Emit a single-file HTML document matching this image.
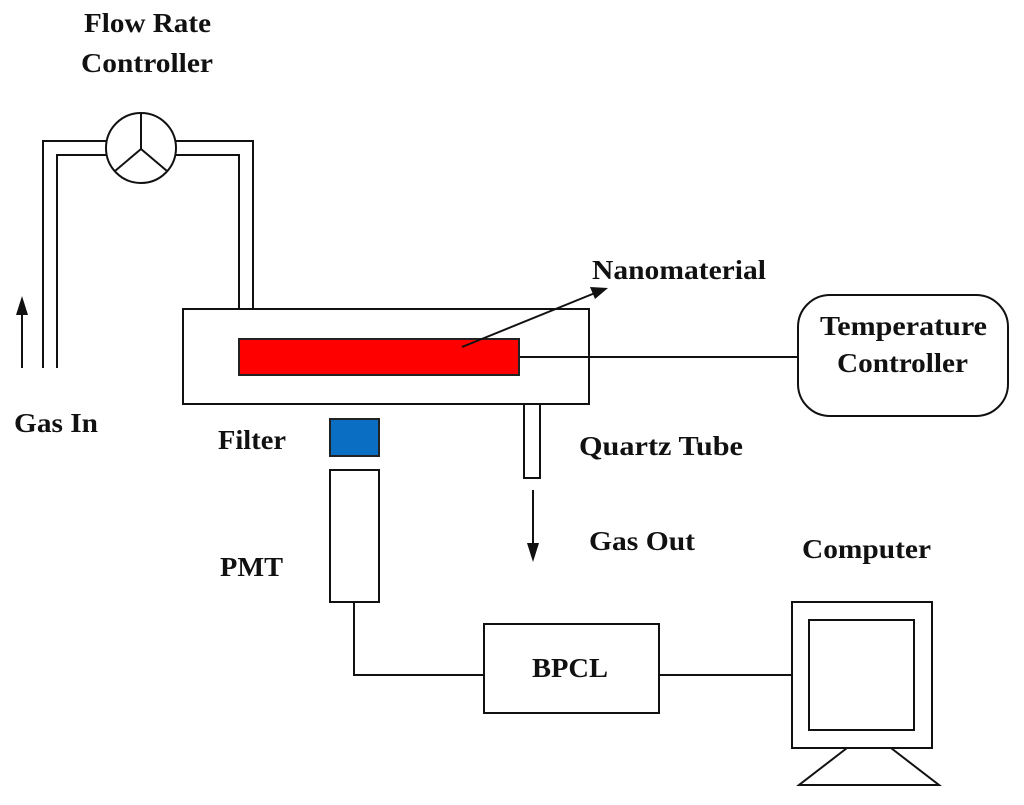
<!DOCTYPE html>
<html><head><meta charset="utf-8"><style>
html,body{margin:0;padding:0;background:#fff;}
svg text{font-family:"Liberation Serif",serif;font-weight:bold;font-size:27px;fill:#111;}
</style></head><body>
<svg width="1024" height="800" viewBox="0 0 1024 800" xmlns="http://www.w3.org/2000/svg">
<g fill="none" stroke="#111" stroke-width="2">
<polyline points="43,368 43,141 107,141"/>
<polyline points="57,368 57,155 107,155"/>
<polyline points="176,141 253,141 253,309"/>
<polyline points="176,155 239,155 239,309"/>
<circle cx="141" cy="148" r="35"/>
<line x1="141" y1="113" x2="141" y2="149"/>
<line x1="141" y1="149" x2="115" y2="171"/>
<line x1="141" y1="149" x2="167" y2="171"/>
<line x1="22" y1="368" x2="22" y2="312"/>
<rect x="183" y="309" width="406" height="95"/>
<line x1="519" y1="357" x2="798" y2="357"/>
<rect x="798" y="295" width="210" height="121" rx="32"/>
<rect x="524" y="404" width="16" height="74"/>
<line x1="533" y1="490" x2="533" y2="545"/>
<rect x="330" y="470" width="49" height="132"/>
<polyline points="354,602 354,675 484,675"/>
<rect x="484" y="624" width="175" height="89"/>
<line x1="659" y1="675" x2="792" y2="675"/>
<rect x="792" y="602" width="140" height="146"/>
<rect x="809" y="620" width="105" height="110"/>
<polyline points="847,748 799,785 939,785 891,748"/>
</g>
<polygon points="22,296 16,315 28,315" fill="#111"/>
<polygon points="533,562 527,543 539,543" fill="#111"/>
<rect x="239" y="339" width="280" height="36" fill="#ff0000" stroke="#222" stroke-width="2"/>
<line x1="462" y1="347" x2="595" y2="293" stroke="#111" stroke-width="2"/>
<polygon points="608,288 590,287 595,299" fill="#111"/>
<rect x="330" y="419" width="49" height="37" fill="#0a6fc2" stroke="#222" stroke-width="2"/>
<text x="84" y="32" textLength="127" lengthAdjust="spacingAndGlyphs">Flow Rate</text>
<text x="81" y="72" textLength="132" lengthAdjust="spacingAndGlyphs">Controller</text>
<text x="14" y="432" textLength="84" lengthAdjust="spacingAndGlyphs">Gas In</text>
<text x="592" y="279" textLength="174" lengthAdjust="spacingAndGlyphs">Nanomaterial</text>
<text x="820" y="335" textLength="167" lengthAdjust="spacingAndGlyphs">Temperature</text>
<text x="837" y="372" textLength="131" lengthAdjust="spacingAndGlyphs">Controller</text>
<text x="218" y="449" textLength="68" lengthAdjust="spacingAndGlyphs">Filter</text>
<text x="579" y="455" textLength="164" lengthAdjust="spacingAndGlyphs">Quartz Tube</text>
<text x="589" y="550" textLength="106" lengthAdjust="spacingAndGlyphs">Gas Out</text>
<text x="802" y="558" textLength="129" lengthAdjust="spacingAndGlyphs">Computer</text>
<text x="220" y="576" textLength="63" lengthAdjust="spacingAndGlyphs">PMT</text>
<text x="532" y="677" textLength="76" lengthAdjust="spacingAndGlyphs">BPCL</text>
</svg>
</body></html>
